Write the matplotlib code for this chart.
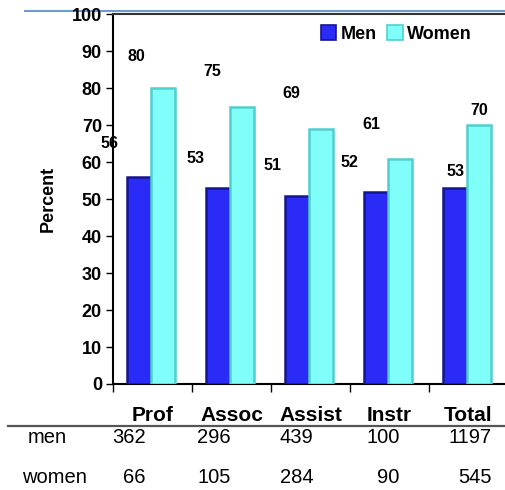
import matplotlib
matplotlib.use("Agg")
import matplotlib.pyplot as plt
from matplotlib.patches import Patch
from matplotlib.lines import Line2D
import numpy as np

plt.rcParams['font.family'] = ['Liberation Sans', 'DejaVu Sans']

# Data
categories = ["Prof", "Assoc", "Assist", "Instr", "Total"]
men_pct = [56, 53, 51, 52, 53]
women_pct = [80, 75, 69, 61, 70]
men_counts = [362, 296, 439, 100, 1197]
women_counts = [66, 105, 284, 90, 545]
yticks = [0, 10, 20, 30, 40, 50, 60, 70, 80, 90, 100]

# Label placement offsets (data units: dx in category widths, dy in percent)
men_label_dx = [-0.38, -0.29, -0.31, -0.34, 0.0]
men_label_dy = [9.0, 8.0, 8.0, 8.0, 4.5]
women_label_dx = [-0.34, -0.37, -0.37, -0.36, 0.0]
women_label_dy = [8.5, 9.5, 9.5, 9.3, 4.0]
# Right edges of the count table columns (in category units)
count_col_right = [0.41, 1.49, 2.54, 3.63, 4.79]

W, H = 506, 490
fig = plt.figure(figsize=(W / 100, H / 100), dpi=100)
ax = fig.add_axes([113 / W, 1 - 384 / H, 395 / W, 369.5 / H])

men_color = "#2B2BF8"
men_edge = "#16168C"
women_color = "#80FFFA"
women_edge = "#4FCFCF"

x = np.arange(len(categories)) + 0.5
bw = 0.3
ax.bar(x - 0.17, men_pct, bw, color=men_color, edgecolor=men_edge, linewidth=1.8, label="Men", zorder=3)
ax.bar(x + 0.13, women_pct, bw, color=women_color, edgecolor=women_edge, linewidth=1.8, label="Women", zorder=3)

for i in range(len(categories)):
    ax.text(x[i] - 0.17 + men_label_dx[i], men_pct[i] + men_label_dy[i], str(men_pct[i]),
            ha="center", va="center", fontsize=11.5, fontweight="bold", zorder=5, clip_on=False)
    ax.text(x[i] + 0.13 + women_label_dx[i], women_pct[i] + women_label_dy[i], str(women_pct[i]),
            ha="center", va="center", fontsize=11.5, fontweight="bold", zorder=5)

ax.set_xlim(0, 5)
ax.set_ylim(0, 100)
ax.set_yticks(yticks)
ax.set_yticklabels([str(t) for t in yticks], fontsize=13, fontweight="bold")
ax.set_xticks(np.arange(0, 5))
ax.set_xticklabels([])
ax.tick_params(axis="y", direction="out", length=5, width=1, pad=3)
ax.tick_params(axis="x", direction="out", length=6, width=1)
for side in ["left", "bottom"]:
    ax.spines[side].set_linewidth(1.5)
    ax.spines[side].set_color("black")
ax.spines["top"].set_linewidth(1.5)
ax.spines["top"].set_color("#333333")
ax.spines["right"].set_visible(False)

ax.set_ylabel("Percent", fontsize=13, fontweight="bold", labelpad=11)

# Category names under the axis
trans = ax.get_xaxis_transform()
for i, c in enumerate(categories):
    ax.text(x[i], -31 / 369.5, c, transform=trans, ha="center", va="center",
            fontsize=15, fontweight="bold", clip_on=False)

# Count table
for i in range(len(categories)):
    ax.text(count_col_right[i], -53 / 369.5, str(men_counts[i]), transform=trans,
            ha="right", va="center", fontsize=14.5, clip_on=False)
    ax.text(count_col_right[i], -93 / 369.5, str(women_counts[i]), transform=trans,
            ha="right", va="center", fontsize=14.5, clip_on=False)
fig.text(47 / W, 1 - 437 / H, "men", ha="center", va="center", fontsize=14.5)
fig.text(54 / W, 1 - 477 / H, "women", ha="center", va="center", fontsize=14.5)

# Rules
fig.add_artist(Line2D([8 / W, 1.0], [1 - 426 / H] * 2, transform=fig.transFigure,
                      color="#555555", linewidth=1.6))
fig.add_artist(Line2D([25 / W, 1.0], [1 - 11 / H] * 2, transform=fig.transFigure,
                      color="#6B9BD0", linewidth=1.5, zorder=0))

handles = [Patch(facecolor=men_color, edgecolor=men_edge, linewidth=1.2),
           Patch(facecolor=women_color, edgecolor=women_edge, linewidth=1.2)]
leg = ax.legend(handles, ["Men", "Women"], loc="upper right", bbox_to_anchor=(0.95, 1.015),
                ncol=2, frameon=False, prop={"weight": "bold", "size": 13},
                handlelength=0.85, handleheight=0.85, handletextpad=0.25, columnspacing=0.6)

fig.savefig("out.png", dpi=100)
